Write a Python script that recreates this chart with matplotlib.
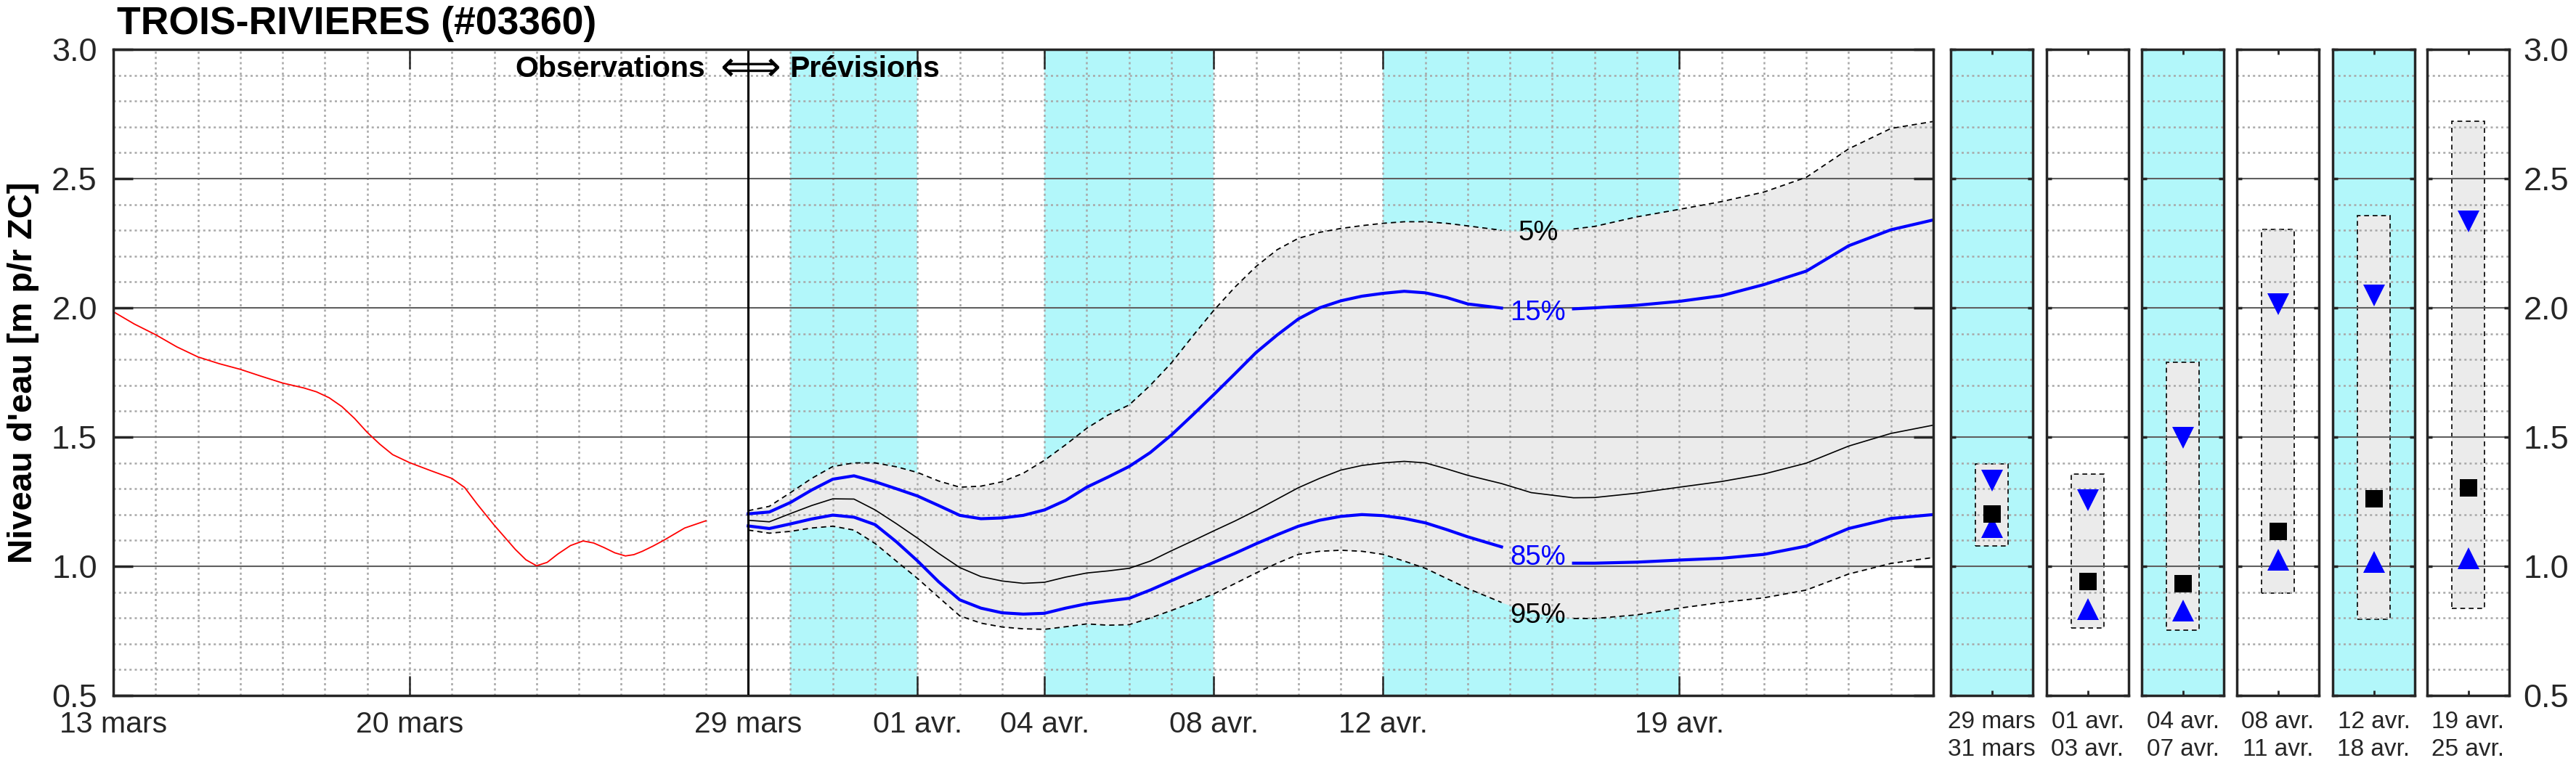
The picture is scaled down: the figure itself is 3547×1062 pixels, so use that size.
import matplotlib.pyplot as plt
import numpy as np

# ---- data (x in days from 13 mars) ----
obs_day = [0, 0.5, 1, 1.5, 2, 2.5, 3, 3.5, 4, 4.5, 4.8, 5.1, 5.4, 5.7, 6, 6.3, 6.6, 7,
           7.5, 8, 8.3, 8.6, 9, 9.5, 9.75, 10, 10.25, 10.5, 10.8, 11.1, 11.35, 11.6,
           11.85, 12.1, 12.3, 12.5, 12.75, 13, 13.5, 14]
obs_level = [1.985, 1.937, 1.896, 1.849, 1.81, 1.784, 1.762, 1.735, 1.709, 1.69, 1.675,
             1.652, 1.618, 1.572, 1.518, 1.472, 1.432, 1.401, 1.37, 1.34, 1.305, 1.24,
             1.159, 1.065, 1.025, 1.002, 1.015, 1.047, 1.08, 1.098, 1.09, 1.072, 1.052,
             1.04, 1.045, 1.058, 1.078, 1.10, 1.148, 1.176]

fc_day = [15, 15.5, 16, 16.5, 17, 17.5, 18, 18.5, 19, 19.5, 20, 20.5, 21, 21.5, 22, 22.5,
          23, 23.5, 24, 24.5, 25, 25.5, 26, 26.5, 27, 27.5, 28, 28.5, 29, 29.5, 30, 30.5,
          31, 31.5, 32, 32.8, 33.5, 34.5, 35, 36, 37, 38, 39, 40, 41, 42, 43]
p05 = [1.215, 1.232, 1.285, 1.34, 1.386, 1.40, 1.40, 1.385, 1.363, 1.33, 1.306, 1.31,
       1.327, 1.36, 1.41, 1.47, 1.534, 1.585, 1.624, 1.70, 1.787, 1.89, 1.99, 2.08, 2.16,
       2.225, 2.269, 2.292, 2.307, 2.318, 2.327, 2.333, 2.333, 2.327, 2.317, 2.30, 2.295,
       2.305, 2.315, 2.352, 2.381, 2.411, 2.448, 2.505, 2.615, 2.694, 2.721]
p15 = [1.203, 1.21, 1.247, 1.295, 1.337, 1.35, 1.327, 1.30, 1.272, 1.235, 1.197, 1.184,
       1.187, 1.197, 1.218, 1.255, 1.306, 1.345, 1.386, 1.44, 1.508, 1.585, 1.664, 1.745,
       1.827, 1.895, 1.957, 2.0, 2.027, 2.045, 2.056, 2.064, 2.058, 2.04, 2.015, 1.999,
       1.996, 1.996, 2.0, 2.01, 2.025, 2.047, 2.09, 2.142, 2.24, 2.302, 2.34]
p50 = [1.178, 1.172, 1.204, 1.235, 1.261, 1.26, 1.218, 1.165, 1.109, 1.05, 0.995, 0.96,
       0.943, 0.934, 0.938, 0.958, 0.974, 0.982, 0.992, 1.02, 1.06, 1.098, 1.137, 1.175,
       1.216, 1.26, 1.304, 1.34, 1.372, 1.39, 1.40, 1.406, 1.40, 1.377, 1.352, 1.32, 1.285,
       1.265, 1.266, 1.283, 1.306, 1.328, 1.357, 1.399, 1.465, 1.514, 1.546]
p85 = [1.156, 1.146, 1.164, 1.183, 1.198, 1.19, 1.161, 1.095, 1.021, 0.94, 0.87, 0.838,
       0.82, 0.815, 0.818, 0.838, 0.855, 0.866, 0.876, 0.908, 0.944, 0.98, 1.015, 1.05,
       1.087, 1.122, 1.155, 1.178, 1.193, 1.2, 1.196, 1.185, 1.168, 1.142, 1.114, 1.075,
       1.03, 1.012, 1.012, 1.016, 1.024, 1.031, 1.046, 1.078, 1.146, 1.185, 1.2]
p95 = [1.14, 1.128, 1.135, 1.148, 1.155, 1.14, 1.088, 1.02, 0.953, 0.88, 0.808, 0.78,
       0.765, 0.758, 0.756, 0.766, 0.777, 0.772, 0.774, 0.80, 0.829, 0.86, 0.893, 0.933,
       0.974, 1.012, 1.046, 1.058, 1.062, 1.058, 1.046, 1.02, 0.992, 0.953, 0.914, 0.86,
       0.82, 0.798, 0.798, 0.812, 0.838, 0.86, 0.878, 0.908, 0.97, 1.011, 1.034]

pct_names = ['5%', '15%', '85%', '95%']
pct_label_level = [2.29, 1.98, 1.034, 0.81]
pct_label_day = 33.66

tick_days = [0, 7, 15, 19, 22, 26, 30, 37]
tick_labels = ['13 mars', '20 mars', '29 mars', '01 avr.', '04 avr.', '08 avr.', '12 avr.', '19 avr.']
cyan_start = [16, 22, 30]
cyan_end = [19, 26, 37]

panel_labels = ['29 mars\n31 mars', '01 avr.\n03 avr.', '04 avr.\n07 avr.',
                '08 avr.\n11 avr.', '12 avr.\n18 avr.', '19 avr.\n25 avr.']
panel_cyan = [True, False, True, False, True, False]
panel_top = [1.397, 1.356, 1.789, 2.304, 2.357, 2.721]
panel_bot = [1.080, 0.760, 0.753, 0.895, 0.795, 0.837]
panel_p15 = [1.331, 1.257, 1.498, 2.015, 2.048, 2.333]
panel_med = [1.203, 0.941, 0.933, 1.135, 1.260, 1.302]
panel_p85 = [1.152, 0.835, 0.829, 1.025, 1.017, 1.030]

# ---- style ----
plt.rcParams['font.family'] = ['Liberation Sans', 'DejaVu Sans']
CYAN = '#B2F7FA'
GRAY = '#EBEBEB'
AXC = '#262626'
MAJ = dict(color='#5F5F5F', lw=1.5, ls='-')
MIN = dict(color='#A8A8A8', lw=1.8, ls=(0, (1.2, 1.7)))

W, H = 3547, 1062
fig = plt.figure(figsize=(W / 100, H / 100), dpi=100)
bot = 1 - 958 / H
hgt = 890 / H


def style_grid(ax):
    ax.set_axisbelow('line')
    ax.set_ylim(0.5, 3.0)
    ax.set_yticks(np.arange(0.5, 3.01, 0.5))
    ax.set_yticks(np.arange(0.5, 3.01, 0.1), minor=True)
    ax.grid(True, which='major', axis='y', **MAJ)
    ax.grid(True, which='minor', axis='y', **MIN)
    for s in ax.spines.values():
        s.set_color(AXC)
        s.set_linewidth(2.5)
        s.set_zorder(5)


# ---- main axes ----
ax = fig.add_axes([156 / W, bot, (2662 - 156) / W, hgt])
style_grid(ax)
ax.set_xlim(0, 43)
for a, b in zip(cyan_start, cyan_end):
    ax.axvspan(a, b, color=CYAN, lw=0, zorder=0)
ax.fill_between(fc_day, p95, p05, color=GRAY, lw=0, zorder=0.8)

fd = np.array(fc_day)
gap = (fd > 32.8) & (fd < 34.5)


def gapped(v):
    return np.where(gap, np.nan, np.array(v))


ax.plot(fd, gapped(p05), color='k', lw=1.3, ls=(0, (4, 3)), zorder=3)
ax.plot(fd, gapped(p95), color='k', lw=1.3, ls=(0, (4, 3)), zorder=3)
ax.plot(fd, gapped(p15), color='#0000FF', lw=3, zorder=3)
ax.plot(fd, gapped(p85), color='#0000FF', lw=3, zorder=3)
ax.plot(fd, p50, color='k', lw=1.2, zorder=3)
ax.plot(obs_day, obs_level, color='#FF0000', lw=1.3, zorder=3)
ax.axvline(15, color='k', lw=2.2, zorder=4)

for name, lev in zip(pct_names, pct_label_level):
    col = '#0000FF' if name in ('15%', '85%') else 'k'
    ax.text(pct_label_day, lev, name, color=col, fontsize=27.5,
            ha='center', va='center', zorder=4)

ax.text(13.98, 2.924, 'Observations', fontsize=29.5, fontweight='bold',
        ha='right', va='center', zorder=6)
ax.text(14.95, 2.924, r'$\Longleftrightarrow$', fontsize=42, ha='center', va='center',
        zorder=6)
ax.text(15.98, 2.924, 'Prévisions', fontsize=29.5, fontweight='bold',
        ha='left', va='center', zorder=6)

ax.set_xticks(tick_days, tick_labels)
ax.set_xticks(np.arange(1, 43), minor=True)
ax.grid(True, which='both', axis='x', **MIN)
ax.set_yticklabels(['%.1f' % v for v in np.arange(0.5, 3.01, 0.5)])
ax.tick_params(axis='x', which='major', direction='in', top=True, bottom=True,
               length=19.5, width=1.8, color=AXC, labelsize=29.5, labelcolor=AXC, pad=15)
ax.tick_params(axis='y', which='major', direction='in', left=True, right=True,
               length=19.5, width=2.5, color=AXC, labelsize=32.5, labelcolor=AXC, pad=16)
ax.tick_params(which='minor', length=0)

fig.text(161 / W, 1 - 47 / H, 'TROIS-RIVIERES (#03360)', fontsize=38.5,
         fontweight='bold', ha='left', va='baseline')
fig.text(32 / W, 1 - 513 / H, "Niveau d'eau [m p/r ZC]", fontsize=34,
         fontweight='bold', rotation=90, ha='center', va='center')

# ---- period panels ----
panel_left = [2686, 2818, 2949, 3080, 3212, 3342]
for i, lx in enumerate(panel_left):
    axp = fig.add_axes([lx / W, bot, 113 / W, hgt])
    style_grid(axp)
    axp.set_xlim(0, 1)
    if panel_cyan[i]:
        axp.set_facecolor(CYAN)
    axp.add_patch(plt.Rectangle((0.3, panel_bot[i]), 0.4, panel_top[i] - panel_bot[i],
                                facecolor=GRAY, edgecolor='k', lw=1.2,
                                ls=(0, (4, 3)), zorder=1))
    axp.plot(0.5, panel_p15[i], marker='v', color='#0000FF', ms=21, mew=0, zorder=3)
    axp.plot(0.5, panel_p85[i], marker='^', color='#0000FF', ms=21, mew=0, zorder=3)
    axp.plot(0.5, panel_med[i], marker='s', color='k', ms=17, mew=0, zorder=3)
    axp.set_xticks([0.5], [panel_labels[i]])
    axp.tick_params(axis='x', direction='in', top=True, bottom=True, length=5,
                    width=2, color=AXC, labelsize=24, labelcolor=AXC, pad=15)
    for lbl in axp.get_xticklabels():
        lbl.set_linespacing(1.3)
    last = i == len(panel_left) - 1
    axp.tick_params(axis='y', which='major', direction='in', left=True, right=True,
                    length=5, width=2.5, color=AXC, labelleft=False,
                    labelright=last, labelsize=32.5, labelcolor=AXC, pad=14)
    axp.tick_params(which='minor', length=0)
    if last:
        axp.set_yticklabels(['%.1f' % v for v in np.arange(0.5, 3.01, 0.5)])

fig.savefig('out.png', dpi=100)
